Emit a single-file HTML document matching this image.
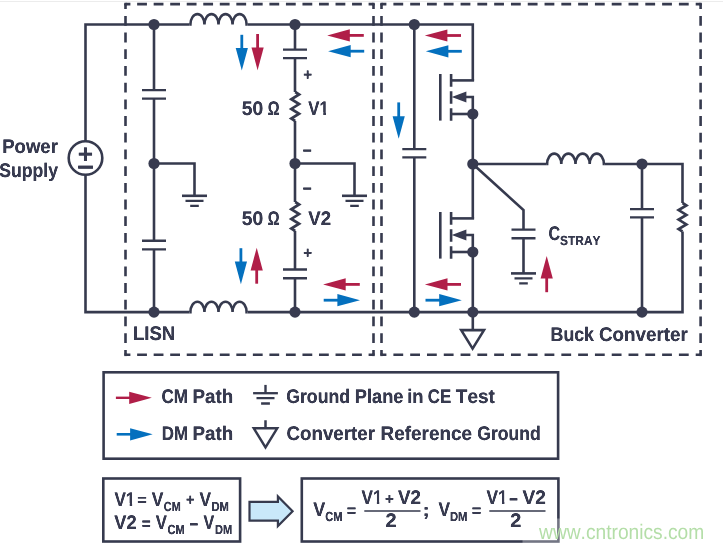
<!DOCTYPE html>
<html lang="en">
<head>
<meta charset="utf-8">
<title>CM and DM noise paths: LISN and buck converter</title>
<style>
html,body{margin:0;padding:0;background:#fff;}
body{width:723px;height:548px;overflow:hidden;position:relative;}
svg{position:absolute;left:0;top:0;display:block;will-change:transform;}
svg text{font-family:"Liberation Sans",sans-serif;font-kerning:none;text-rendering:geometricPrecision;}
</style>
</head>
<body>
<svg width="723" height="548" viewBox="0 0 723 548">
<defs><filter id="emb" filterUnits="userSpaceOnUse" x="0" y="0" width="723" height="548" color-interpolation-filters="sRGB"><feGaussianBlur stdDeviation="0.45 0.12"/><feComponentTransfer><feFuncA type="linear" slope="1.45" intercept="0"/></feComponentTransfer></filter></defs>
<rect x="0" y="0" width="723" height="548" fill="#ffffff"/>
<rect x="0" y="1" width="723" height="1" fill="#ececec"/>
<g fill="none" stroke="#363a4e" stroke-width="2.6" stroke-linecap="butt" stroke-linejoin="miter">
<line x1="125.5" y1="4.1" x2="373.5" y2="4.1" stroke-dasharray="9.8 6.733" stroke-dashoffset="4.9" stroke-linecap="butt"/>
<line x1="125.5" y1="354.8" x2="373.5" y2="354.8" stroke-dasharray="9.8 6.733" stroke-dashoffset="4.9" stroke-linecap="butt"/>
<line x1="125.5" y1="4.1" x2="125.5" y2="354.8" stroke-dasharray="9.8 6.900" stroke-dashoffset="4.9" stroke-linecap="butt"/>
<line x1="373.5" y1="4.1" x2="373.5" y2="354.8" stroke-dasharray="9.8 6.900" stroke-dashoffset="4.9" stroke-linecap="butt"/>
<rect x="124.2" y="2.8" width="2.6" height="2.6" fill="#363a4e" stroke="none"/>
<rect x="372.2" y="2.8" width="2.6" height="2.6" fill="#363a4e" stroke="none"/>
<rect x="124.2" y="353.5" width="2.6" height="2.6" fill="#363a4e" stroke="none"/>
<rect x="372.2" y="353.5" width="2.6" height="2.6" fill="#363a4e" stroke="none"/>
<line x1="381.5" y1="4.1" x2="700.6" y2="4.1" stroke-dasharray="9.8 6.995" stroke-dashoffset="4.9" stroke-linecap="butt"/>
<line x1="381.5" y1="354.8" x2="700.6" y2="354.8" stroke-dasharray="9.8 6.995" stroke-dashoffset="4.9" stroke-linecap="butt"/>
<line x1="381.5" y1="4.1" x2="381.5" y2="354.8" stroke-dasharray="9.8 6.900" stroke-dashoffset="4.9" stroke-linecap="butt"/>
<line x1="700.6" y1="4.1" x2="700.6" y2="354.8" stroke-dasharray="9.8 6.900" stroke-dashoffset="4.9" stroke-linecap="butt"/>
<rect x="380.2" y="2.8" width="2.6" height="2.6" fill="#363a4e" stroke="none"/>
<rect x="699.3000000000001" y="2.8" width="2.6" height="2.6" fill="#363a4e" stroke="none"/>
<rect x="380.2" y="353.5" width="2.6" height="2.6" fill="#363a4e" stroke="none"/>
<rect x="699.3000000000001" y="353.5" width="2.6" height="2.6" fill="#363a4e" stroke="none"/>
<path d="M85.5 141.2V24.5H189.5"/>
<path d="M247.5 24.5H472.8V80.4"/>
<path d="M85.5 174.8V312.1H189.5"/>
<path d="M247.5 312.1H682.5V231.5"/>
<path d="M189.5 24.5H190.4A7.025 10.4 0 0 1 204.450 24.5A7.025 10.4 0 0 1 218.500 24.5A7.025 10.4 0 0 1 232.550 24.5A7.025 10.4 0 0 1 246.600 24.5H247.5" stroke-linejoin="miter" stroke-miterlimit="2"/>
<path d="M189.5 312.1H190.4A7.025 10.4 0 0 1 204.450 312.1A7.025 10.4 0 0 1 218.500 312.1A7.025 10.4 0 0 1 232.550 312.1A7.025 10.4 0 0 1 246.600 312.1H247.5" stroke-linejoin="miter" stroke-miterlimit="2"/>
<circle cx="85.5" cy="158" r="16.8"/>
<path d="M154 24.5V90.1M154 98.6V240.7M154 249.4V312"/>
<path d="M142 90.1H166M142 98.6H166" stroke-width="2.4"/>
<path d="M142 240.7H166M142 249.4H166" stroke-width="2.4"/>
<path d="M154 163.5H194.5V195.8"/>
<path d="M182.0 195.8H207.0"/>
<path d="M185.5 200.8H203.5M190.2 205.8H198.8" stroke-width="2.2"/>
<path d="M295 24.5V49.6M295 58.1V92M295 121V202M295 231V269.5M295 278.2V312"/>
<path d="M283 49.6H307M283 58.1H307" stroke-width="2.4"/>
<path d="M283 269.5H307M283 278.2H307" stroke-width="2.4"/>
<path d="M295.2 92L299.10 94.42L291.30 99.25L299.10 104.08L291.30 108.92L299.10 113.75L291.30 118.58L295.2 121" stroke-linejoin="miter" stroke-width="2.7"/>
<path d="M295.2 202L299.10 204.42L291.30 209.25L299.10 214.08L291.30 218.92L299.10 223.75L291.30 228.58L295.2 231" stroke-linejoin="miter" stroke-width="2.7"/>
<path d="M295 163.5H354.5V195.8"/>
<path d="M342.0 195.8H367.0"/>
<path d="M345.5 200.8H363.5M350.2 205.8H358.8" stroke-width="2.2"/>
<path d="M414.3 24.5V149.1M414.3 157.4V312"/>
<path d="M402.3 149.1H426.3M402.3 157.4H426.3" stroke-width="2.4"/>
<path d="M440.3 74V120.6"/>
<path d="M451.1 74V86.8M451.1 91.3V103.7M451.1 108.3V120.8"/>
<path d="M451.1 80.4H474.1"/>
<path d="M451.1 114H472.8"/>
<path d="M465.1 97H472.8V114"/>
<path d="M451.70000000000005 97L466.40000000000003 91.5V102.5Z" fill="#383b50" stroke="none"/>
<circle cx="472.8" cy="114" r="5.6" fill="#383b50" stroke="none"/>
<path d="M440.3 212V258.6"/>
<path d="M451.1 212V224.8M451.1 229.3V241.7M451.1 246.3V258.8"/>
<path d="M451.1 218.4H474.1"/>
<path d="M451.1 252H472.8"/>
<path d="M465.1 235H472.8V252"/>
<path d="M451.70000000000005 235L466.40000000000003 229.5V240.5Z" fill="#383b50" stroke="none"/>
<circle cx="472.8" cy="252" r="5.6" fill="#383b50" stroke="none"/>
<path d="M472.8 114V218.4M472.8 252V330.3"/>
<path d="M472.8 164H546.2M604.8 164H682.5V203"/>
<path d="M546.2 164H547.1A7.100 10.4 0 0 1 561.300 164A7.100 10.4 0 0 1 575.500 164A7.100 10.4 0 0 1 589.700 164A7.100 10.4 0 0 1 603.900 164H604.8" stroke-linejoin="miter" stroke-miterlimit="2"/>
<path d="M682.5 203L686.40 205.38L678.60 210.12L686.40 214.88L678.60 219.62L686.40 224.38L678.60 229.12L682.5 231.5" stroke-linejoin="miter" stroke-width="2.7"/>
<path d="M472.8 164L523.5 210V229.6M523.5 238.3V273.4"/>
<path d="M511.5 229.6H535.5M511.5 238.3H535.5" stroke-width="2.4"/>
<path d="M511.0 273.4H536.0"/>
<path d="M514.5 278.4H532.5M519.2 283.4H527.8" stroke-width="2.2"/>
<path d="M642 164V209.1M642 217.4V312"/>
<path d="M630 209.1H654M630 217.4H654" stroke-width="2.4"/>
<path d="M461.2 330.1H484L472.6 348.6Z" stroke-width="2.6"/>
<rect x="103.6" y="372.3" width="454.5" height="86.4"/>
<path d="M265.5 384.9V393.2" stroke-width="2.4"/>
<path d="M253.1 393.2H277.9" stroke-width="2.3"/>
<path d="M256.5 398.2H274.5M261.1 403.5H269.9" stroke-width="2.3"/>
<path d="M265.5 420.3V428.3M253.8 428.3H277.2L265.5 447.4Z" stroke-width="2.5"/>
<rect x="103.3" y="478.5" width="136.8" height="63"/>
<rect x="301.8" y="478.5" width="256.6" height="63"/>
<path d="M249.5 501.8H277.9V496.4L292.6 511.25L277.9 526.1V520.7H249.5Z" fill="#c9e8fa" stroke-width="2.2"/>
<path d="M364.3 511H420.5M489.3 511H545.5" stroke-width="1.6"/>
</g>
<circle cx="154" cy="24.5" r="5.6" fill="#383b50" stroke="none"/>
<circle cx="295" cy="24.5" r="5.6" fill="#383b50" stroke="none"/>
<circle cx="414.3" cy="24.5" r="5.6" fill="#383b50" stroke="none"/>
<circle cx="154" cy="163.5" r="5.6" fill="#383b50" stroke="none"/>
<circle cx="295" cy="163.5" r="5.6" fill="#383b50" stroke="none"/>
<circle cx="472.8" cy="164" r="5.6" fill="#383b50" stroke="none"/>
<circle cx="642" cy="164" r="5.6" fill="#383b50" stroke="none"/>
<circle cx="154" cy="312.1" r="5.6" fill="#383b50" stroke="none"/>
<circle cx="295" cy="312.1" r="5.6" fill="#383b50" stroke="none"/>
<circle cx="414.3" cy="312.1" r="5.6" fill="#383b50" stroke="none"/>
<circle cx="472.8" cy="312.1" r="5.6" fill="#383b50" stroke="none"/>
<circle cx="642" cy="312.1" r="5.6" fill="#383b50" stroke="none"/>
<path d="M241.8 34.8L241.80 49.00" stroke="#0470be" stroke-width="2.8" fill="none"/>
<path d="M241.8 70.6L235.70 48.00L247.90 48.00Z" fill="#0470be" stroke="none"/>
<path d="M257.6 34L257.60 48.60" stroke="#b01e48" stroke-width="2.8" fill="none"/>
<path d="M257.6 70.2L251.50 47.60L263.70 47.60Z" fill="#b01e48" stroke="none"/>
<path d="M240.9 248.2L240.90 262.60" stroke="#0470be" stroke-width="2.8" fill="none"/>
<path d="M240.9 284.2L234.80 261.60L247.00 261.60Z" fill="#0470be" stroke="none"/>
<path d="M256.7 283.7L256.70 269.40" stroke="#b01e48" stroke-width="2.8" fill="none"/>
<path d="M256.7 247.8L262.80 270.40L250.60 270.40Z" fill="#b01e48" stroke="none"/>
<path d="M363.8 35.4L348.80 35.40" stroke="#b01e48" stroke-width="2.8" fill="none"/>
<path d="M327.2 35.4L349.80 29.30L349.80 41.50Z" fill="#b01e48" stroke="none"/>
<path d="M364.2 51.2L349.70 51.20" stroke="#0470be" stroke-width="2.8" fill="none"/>
<path d="M328.1 51.2L350.70 45.10L350.70 57.30Z" fill="#0470be" stroke="none"/>
<path d="M461 35.5L446.40 35.50" stroke="#b01e48" stroke-width="2.8" fill="none"/>
<path d="M424.8 35.5L447.40 29.40L447.40 41.60Z" fill="#b01e48" stroke="none"/>
<path d="M461.8 51.3L447.40 51.30" stroke="#0470be" stroke-width="2.8" fill="none"/>
<path d="M425.8 51.3L448.40 45.20L448.40 57.40Z" fill="#0470be" stroke="none"/>
<path d="M398.7 102.4L398.70 117.20" stroke="#0470be" stroke-width="2.8" fill="none"/>
<path d="M398.7 138.8L392.60 116.20L404.80 116.20Z" fill="#0470be" stroke="none"/>
<path d="M359.8 284.4L344.70 284.40" stroke="#b01e48" stroke-width="2.8" fill="none"/>
<path d="M323.1 284.4L345.70 278.30L345.70 290.50Z" fill="#b01e48" stroke="none"/>
<path d="M323.7 300.2L338.40 300.20" stroke="#0470be" stroke-width="2.8" fill="none"/>
<path d="M360 300.2L337.40 306.30L337.40 294.10Z" fill="#0470be" stroke="none"/>
<path d="M461 284.4L446.50 284.40" stroke="#b01e48" stroke-width="2.8" fill="none"/>
<path d="M424.9 284.4L447.50 278.30L447.50 290.50Z" fill="#b01e48" stroke="none"/>
<path d="M425.5 300.2L440.20 300.20" stroke="#0470be" stroke-width="2.8" fill="none"/>
<path d="M461.8 300.2L439.20 306.30L439.20 294.10Z" fill="#0470be" stroke="none"/>
<path d="M546.7 292.2L546.70 277.60" stroke="#b01e48" stroke-width="2.8" fill="none"/>
<path d="M546.7 256L552.80 278.60L540.60 278.60Z" fill="#b01e48" stroke="none"/>
<path d="M115.9 397.8L130.20 397.80" stroke="#b01e48" stroke-width="2.4" fill="none"/>
<path d="M151.8 397.8L129.20 403.90L129.20 391.70Z" fill="#b01e48" stroke="none"/>
<path d="M116.7 434.3L131.10 434.30" stroke="#0470be" stroke-width="2.6" fill="none"/>
<path d="M152.7 434.3L130.10 440.40L130.10 428.20Z" fill="#0470be" stroke="none"/>
<g filter="url(#emb)">
<text transform="matrix(0.9426 0.0004 0 1 2.21 152.90)" font-size="19.7" font-weight="bold" fill="#383b50">Power</text>
<text transform="matrix(0.8939 0.0004 0 1 -0.66 176.70)" font-size="19.7" font-weight="bold" fill="#383b50">Supply</text>
<text transform="matrix(0.9806 0.0004 0 1 241.66 114.70)" font-size="19.7" font-weight="bold" fill="#383b50">50</text>
<text transform="matrix(0.7466 0.0004 0 1 267.65 114.70)" font-size="19.7" font-weight="bold" fill="#383b50">Ω</text>
<text transform="matrix(0.9806 0.0004 0 1 241.66 224.70)" font-size="19.7" font-weight="bold" fill="#383b50">50</text>
<text transform="matrix(0.7466 0.0004 0 1 267.65 224.70)" font-size="19.7" font-weight="bold" fill="#383b50">Ω</text>
<clipPath id="c1"><path d="M-5.00 -19.70H20.42V3H17.76V-2.31H10.73V6H-5.00Z"/></clipPath>
<text transform="matrix(0.8520 0.0004 0 1 308.34 114.70)" font-size="19.7" font-weight="bold" fill="#383b50" clip-path="url(#c1)">V1</text>
<text transform="matrix(0.9451 0.0004 0 1 308.22 224.70)" font-size="19.7" font-weight="bold" fill="#383b50">V2</text>
<text transform="matrix(0.9449 0.0004 0 1 132.90 340.40)" font-size="19.7" font-weight="bold" fill="#383b50">LISN</text>
<text transform="matrix(0.9024 0.0004 0 1 550.56 340.60)" font-size="19.7" font-weight="bold" fill="#383b50">Buck</text>
<text transform="matrix(0.9549 0.0004 0 1 598.98 340.60)" font-size="19.7" font-weight="bold" fill="#383b50">Converter</text>
<text transform="matrix(0.8152 0.0004 0 1 548.39 239.80)" font-size="19.7" font-weight="bold" fill="#383b50">C</text>
<text transform="matrix(0.9061 0.0004 0 1 560.01 244.90)" font-size="13.2" font-weight="bold" fill="#383b50">STRAY</text>
<text transform="matrix(0.7732 0.0004 0 0.8239 303.36 79.57)" font-size="19.6" font-weight="bold" fill="#383b50">+</text>
<text transform="matrix(0.8141 0.0004 0 1.0295 302.72 156.01)" font-size="19.6" font-weight="bold" fill="#383b50">–</text>
<text transform="matrix(0.8141 0.0004 0 1.0295 302.72 193.91)" font-size="19.6" font-weight="bold" fill="#383b50">–</text>
<text transform="matrix(0.7732 0.0004 0 0.8038 303.36 258.04)" font-size="19.6" font-weight="bold" fill="#383b50">+</text>
<text transform="matrix(1.3430 0.0004 0 1.3564 77.79 162.79)" font-size="19.6" font-weight="bold" fill="#383b50">+</text>
<text transform="matrix(1.5251 0.0004 0 1.4927 77.20 175.30)" font-size="19.6" font-weight="bold" fill="#383b50">–</text>
<text transform="matrix(0.8663 0.0004 0 1 161.55 403.40)" font-size="19.7" font-weight="bold" fill="#383b50">CM</text>
<text transform="matrix(0.9539 0.0004 0 1 192.49 403.40)" font-size="19.7" font-weight="bold" fill="#383b50">Path</text>
<text transform="matrix(0.8607 0.0004 0 1 161.72 440.20)" font-size="19.7" font-weight="bold" fill="#383b50">DM</text>
<text transform="matrix(0.9539 0.0004 0 1 192.49 440.20)" font-size="19.7" font-weight="bold" fill="#383b50">Path</text>
<text transform="matrix(0.8983 0.0004 0 1 286.22 403.40)" font-size="19.7" font-weight="bold" fill="#383b50">Ground</text>
<text transform="matrix(0.9255 0.0004 0 1 354.83 403.40)" font-size="19.7" font-weight="bold" fill="#383b50">Plane</text>
<text transform="matrix(0.9323 0.0004 0 1 407.27 403.40)" font-size="19.7" font-weight="bold" fill="#383b50">in</text>
<text transform="matrix(0.8531 0.0004 0 1 427.86 403.40)" font-size="19.7" font-weight="bold" fill="#383b50">CE</text>
<text transform="matrix(0.9639 0.0004 0 1 455.84 403.40)" font-size="19.7" font-weight="bold" fill="#383b50">Test</text>
<text transform="matrix(0.9505 0.0004 0 1 286.58 440.20)" font-size="19.7" font-weight="bold" fill="#383b50">Converter</text>
<text transform="matrix(0.9606 0.0004 0 1 380.58 440.20)" font-size="19.7" font-weight="bold" fill="#383b50">Reference</text>
<text transform="matrix(0.8925 0.0004 0 1 477.23 440.20)" font-size="19.7" font-weight="bold" fill="#383b50">Ground</text>
<clipPath id="c2"><path d="M-5.00 -19.70H20.42V3H17.76V-2.31H10.73V6H-5.00Z"/></clipPath>
<text transform="matrix(0.8667 0.0004 0 1 114.43 505.60)" font-size="19.7" font-weight="bold" fill="#383b50" clip-path="url(#c2)">V1</text>
<text transform="matrix(0.8343 0.0004 0 0.7965 137.27 505.12)" font-size="19.6" font-weight="bold" fill="#383b50">=</text>
<text transform="matrix(0.8858 0.0004 0 1 151.63 505.60)" font-size="19.7" font-weight="bold" fill="#383b50">V</text>
<text transform="matrix(0.8218 0.0004 0 1 163.81 510.80)" font-size="13.2" font-weight="bold" fill="#383b50">CM</text>
<text transform="matrix(0.7427 0.0004 0 0.8138 185.94 505.45)" font-size="19.6" font-weight="bold" fill="#383b50">+</text>
<text transform="matrix(0.8780 0.0004 0 1 199.43 505.60)" font-size="19.7" font-weight="bold" fill="#383b50">V</text>
<text transform="matrix(0.8528 0.0004 0 1 211.50 510.80)" font-size="13.2" font-weight="bold" fill="#383b50">DM</text>
<text transform="matrix(0.9235 0.0004 0 1 114.33 528.90)" font-size="19.7" font-weight="bold" fill="#383b50">V2</text>
<text transform="matrix(0.7834 0.0004 0 0.8235 141.71 529.19)" font-size="19.6" font-weight="bold" fill="#383b50">=</text>
<text transform="matrix(0.8469 0.0004 0 1 155.74 528.90)" font-size="19.7" font-weight="bold" fill="#383b50">V</text>
<text transform="matrix(0.8375 0.0004 0 1 167.60 534.30)" font-size="13.2" font-weight="bold" fill="#383b50">CM</text>
<text transform="matrix(0.7935 0.0004 0 1.0809 189.58 529.83)" font-size="19.6" font-weight="bold" fill="#383b50">–</text>
<text transform="matrix(0.8158 0.0004 0 1 203.44 528.90)" font-size="19.7" font-weight="bold" fill="#383b50">V</text>
<text transform="matrix(0.8368 0.0004 0 1 215.11 534.30)" font-size="13.2" font-weight="bold" fill="#383b50">DM</text>
<text transform="matrix(0.9091 0.0004 0 1 313.23 516.30)" font-size="19.7" font-weight="bold" fill="#383b50">V</text>
<text transform="matrix(0.8428 0.0004 0 1 325.29 521.40)" font-size="13.2" font-weight="bold" fill="#383b50">CM</text>
<text transform="matrix(0.8241 0.0004 0 0.8370 346.68 516.33)" font-size="19.6" font-weight="bold" fill="#383b50">=</text>
<clipPath id="c3"><path d="M-5.00 -19.70H20.42V3H17.76V-2.31H10.73V6H-5.00Z"/></clipPath>
<text transform="matrix(0.8667 0.0004 0 1 361.53 503.60)" font-size="19.7" font-weight="bold" fill="#383b50" clip-path="url(#c3)">V1</text>
<text transform="matrix(0.7732 0.0004 0 0.7937 384.91 503.52)" font-size="19.6" font-weight="bold" fill="#383b50">+</text>
<text transform="matrix(0.9537 0.0004 0 1 397.92 503.60)" font-size="19.7" font-weight="bold" fill="#383b50">V2</text>
<text transform="matrix(1.0122 0.0004 0 1 385.56 527.30)" font-size="19.7" font-weight="bold" fill="#383b50">2</text>
<text transform="matrix(1.1093 0.0004 0 0.8894 422.48 515.90)" font-size="19.6" font-weight="bold" fill="#383b50">;</text>
<text transform="matrix(0.8780 0.0004 0 1 438.43 516.30)" font-size="19.7" font-weight="bold" fill="#383b50">V</text>
<text transform="matrix(0.8528 0.0004 0 1 450.00 521.40)" font-size="13.2" font-weight="bold" fill="#383b50">DM</text>
<text transform="matrix(0.8343 0.0004 0 0.8370 471.77 516.33)" font-size="19.6" font-weight="bold" fill="#383b50">=</text>
<clipPath id="c4"><path d="M-5.00 -19.70H20.42V3H17.76V-2.31H10.73V6H-5.00Z"/></clipPath>
<text transform="matrix(0.8766 0.0004 0 1 486.43 503.60)" font-size="19.7" font-weight="bold" fill="#383b50" clip-path="url(#c4)">V1</text>
<text transform="matrix(0.7832 0.0004 0 1.0809 509.19 505.13)" font-size="19.6" font-weight="bold" fill="#383b50">–</text>
<text transform="matrix(0.9667 0.0004 0 1 522.62 503.60)" font-size="19.7" font-weight="bold" fill="#383b50">V2</text>
<text transform="matrix(1.0122 0.0004 0 1 510.26 527.30)" font-size="19.7" font-weight="bold" fill="#383b50">2</text>
</g>
<rect x="522.5" y="518.5" width="200.5" height="29.5" fill="#ffffff" fill-opacity="0.3"/>
<text transform="matrix(0.9136 0.0004 0 1 539.03 538.70)" font-size="21" font-weight="normal" fill="#b4dea8">www.cntronics.com</text>
</svg>
</body>
</html>
